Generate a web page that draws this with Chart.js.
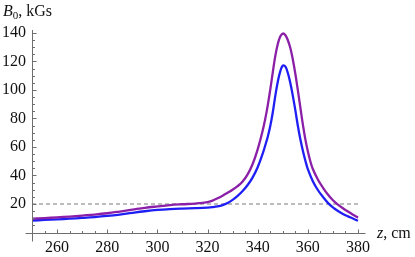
<!DOCTYPE html>
<html>
<head>
<meta charset="utf-8">
<script src="https://cdn.jsdelivr.net/npm/chart.js@4"></script>
<style>
  html, body { margin: 0; padding: 0; background: #fff; }
  #wrap { width: 415px; height: 257px; }
</style>
</head>
<body>
<div id="wrap"><canvas id="chart" width="415" height="257"></canvas></div>
<script>
// z positions (cm) and field values (kGs)
const zPurple = [250, 255, 260, 265, 270, 275, 280, 285, 290, 295, 300, 305, 310, 315, 320, 322, 324, 326, 328, 330, 332, 334, 336, 338, 340, 342, 343, 344, 345, 346, 347, 348, 349, 350, 351, 352, 353, 354, 355, 356, 357, 358, 359, 360, 361, 362, 364, 366, 368, 370, 372, 374, 376, 378, 380];
const bPurple = [9.7, 10.1, 10.6, 11.2, 11.9, 12.6, 13.5, 14.7, 16.0, 17.3, 18.3, 19.2, 19.8, 20.3, 21.3, 22.4, 24.0, 25.8, 27.9, 30.0, 32.5, 35.8, 40.8, 48.0, 58.3, 71.5, 79.5, 89, 100, 112, 123.5, 132, 137.5, 139.5, 138.5, 135, 129.5, 121.5, 111.5, 100, 88, 76, 65.5, 57, 50, 44.5, 37.2, 31.5, 26.6, 22.6, 19.6, 17, 14.7, 12.5, 10.4];

const zBlue = [250, 255, 260, 265, 270, 275, 280, 285, 290, 295, 300, 305, 310, 315, 320, 322, 324, 326, 328, 330, 332, 334, 336, 338, 340, 342, 343, 344, 345, 346, 347, 348, 349, 350, 351, 352, 353, 354, 355, 356, 357, 358, 359, 360, 362, 364, 366, 368, 370, 372, 374, 376, 378, 380];
const bBlue = [8.4, 8.8, 9.2, 9.7, 10.2, 10.8, 11.6, 12.6, 13.8, 14.9, 15.8, 16.4, 16.8, 17.1, 17.5, 17.8, 18.3, 19.2, 20.7, 22.9, 25.7, 29.1, 33.3, 38.7, 45.8, 55.3, 61, 67, 74.5, 84, 95.5, 105.5, 113, 117, 116.5, 112, 105, 96, 86, 75, 65.5, 57.5, 50.5, 44.5, 36, 29.8, 25, 20.8, 17.6, 15.1, 13, 11.3, 9.8, 8.2];

const zLevel = [250, 380];
const bLevel = [20, 20];

const xTickLabels = [260, 280, 300, 320, 340, 360, 380];
const yTickLabels = [20, 40, 60, 80, 100, 120, 140];

const serif = '"Liberation Serif", "DejaVu Serif", serif';
const axisGray = '#6e6e6e';

function toPoints(xs, ys) {
    return xs.map((x, i) => ({ x: x, y: ys[i] }));
}

// Mathematica style axes: crossing lines, ticks pointing inside
const innerTicks = {
    id: 'innerTicks',
    afterDraw(chart) {
        const ctx = chart.ctx;
        const xs = chart.scales.x, ys = chart.scales.y;
        const area = chart.chartArea;
        const left = Math.round(area.left) + 0.5;
        const bottom = Math.round(area.bottom) + 0.5;
        ctx.save();
        ctx.strokeStyle = axisGray;
        ctx.lineWidth = 1;
        ctx.beginPath();
        // axes run a little past the crossing point
        ctx.moveTo(left - 7, bottom);
        ctx.lineTo(area.right, bottom);
        ctx.moveTo(left, area.top);
        ctx.lineTo(left, bottom + 8);
        xs.ticks.forEach(t => {
            if (t.value % 5 !== 0 || t.value <= xs.min) return;
            const px = Math.round(xs.getPixelForValue(t.value)) + 0.5;
            const len = xTickLabels.includes(t.value) ? 4 : 2.5;
            ctx.moveTo(px, bottom);
            ctx.lineTo(px, bottom - len);
        });
        ys.ticks.forEach(t => {
            if (t.value % 5 !== 0 || t.value <= ys.min) return;
            const py = Math.round(ys.getPixelForValue(t.value)) + 0.5;
            const len = yTickLabels.includes(t.value) ? 4 : 2.5;
            ctx.moveTo(left, py);
            ctx.lineTo(left + len, py);
        });
        ctx.stroke();

        // axis names
        ctx.fillStyle = '#111';
        ctx.textBaseline = 'alphabetic';
        let x = 3;
        ctx.font = 'italic 16px ' + serif;
        ctx.fillText('B', x, 16);
        x += ctx.measureText('B').width;
        ctx.font = '11px ' + serif;
        ctx.fillText('0', x, 19);
        x += ctx.measureText('0').width;
        ctx.font = '16px ' + serif;
        ctx.fillText(', kGs', x, 16);

        x = 377;
        ctx.font = 'italic 16px ' + serif;
        ctx.fillText('z', x, 238);
        x += ctx.measureText('z').width;
        ctx.font = '16px ' + serif;
        ctx.fillText(', cm', x, 238);
        ctx.restore();
    }
};

const curve = {
    borderWidth: 2.3,
    pointRadius: 0,
    tension: 0.4,
    fill: false
};

new Chart(document.getElementById('chart').getContext('2d'), {
    type: 'line',
    data: {
        datasets: [
            Object.assign({ data: toPoints(zPurple, bPurple), borderColor: '#8b1fa8' }, curve),
            Object.assign({ data: toPoints(zBlue, bBlue), borderColor: '#1f1ff5' }, curve),
            {
                data: toPoints(zLevel, bLevel),
                borderColor: '#7a7a7a',
                borderWidth: 1.2,
                borderDash: [4, 3],
                pointRadius: 0,
                fill: false
            }
        ]
    },
    options: {
        responsive: false,
        animation: false,
        layout: { padding: { top: 30, right: 49.5, left: 0, bottom: 0 } },
        plugins: {
            legend: { display: false },
            tooltip: { enabled: false }
        },
        scales: {
            x: {
                type: 'linear',
                min: 250,
                max: 383,
                grid: { display: false, drawTicks: false },
                border: { display: false },
                ticks: {
                    stepSize: 5,
                    includeBounds: false,
                    autoSkip: false,
                    maxRotation: 0,
                    padding: 6,
                    color: '#111',
                    font: { family: serif, size: 16 },
                    callback: v => xTickLabels.includes(v) ? String(v) : ''
                },
                afterFit: scale => { scale.height = 24.5; }
            },
            y: {
                min: 0,
                max: 142,
                grid: { display: false, drawTicks: false },
                border: { display: false },
                ticks: {
                    stepSize: 5,
                    includeBounds: false,
                    autoSkip: false,
                    padding: 6,
                    color: '#111',
                    font: { family: serif, size: 16 },
                    callback: v => yTickLabels.includes(v) ? String(v) : ''
                },
                afterFit: scale => { scale.width = 32; }
            }
        }
    },
    plugins: [innerTicks]
});
</script>
</body>
</html>
